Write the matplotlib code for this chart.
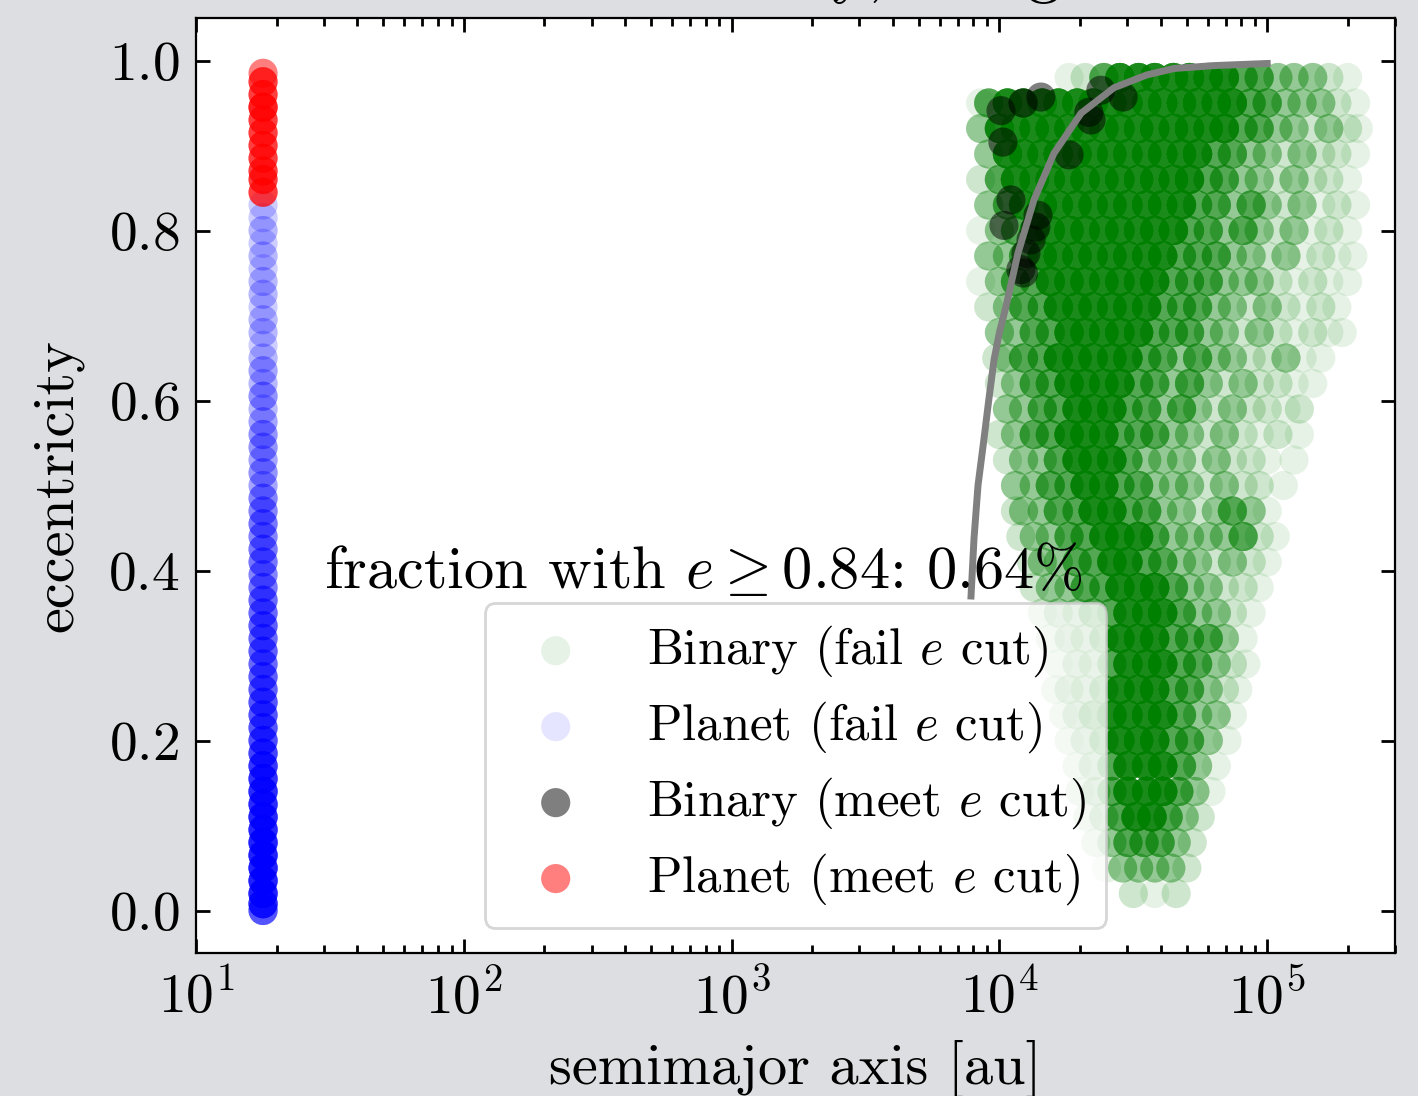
import matplotlib
matplotlib.use("Agg")
import matplotlib.pyplot as plt
import numpy as np

plt.rcParams['font.family'] = 'serif'
plt.rcParams['font.serif'] = ['cmr10']
plt.rcParams['mathtext.fontset'] = 'cm'
plt.rcParams['axes.formatter.use_mathtext'] = True
plt.rcParams['font.size'] = 20

# counts used to encode how many overlapping objects sit at a spot
S, D, M, L, T = 20, 10, 5, 2, 1

# planets: all at the same semimajor axis [au]
planet_a = 17.8
planet_fail_e = [0.83, 0.815, 0.80, 0.785, 0.77, 0.755, 0.74, 0.725, 0.71, 0.695,
                 0.68, 0.665, 0.65, 0.635, 0.62, 0.605, 0.59, 0.575, 0.56, 0.545,
                 0.53, 0.515, 0.50, 0.485, 0.47, 0.455, 0.44, 0.425, 0.41, 0.395,
                 0.38, 0.365, 0.35, 0.335, 0.32, 0.305, 0.29, 0.275, 0.26, 0.245,
                 0.23, 0.215, 0.20, 0.185, 0.17, 0.155, 0.14, 0.125, 0.11, 0.095,
                 0.08, 0.065, 0.05, 0.035, 0.02, 0.008, 0.0]
planet_fail_n = [2, 2, 3, 2, 3, 2, 3, 3, 2, 3,
                 3, 2, 3, 4, 3, 5, 3, 4, 5, 5,
                 4, 5, 4, 6, 6, 7, 6, 7, 7, 6,
                 7, 8, 8, 9, 8, 9, 8, 9, 9, 10,
                 10, 10, 11, 12, 14, 15, 16, 16, 17, 17,
                 18, 18, 18, 18, 18, 16, 10]
planet_meet_e = [0.845, 0.86, 0.87, 0.885, 0.90, 0.915, 0.93, 0.945, 0.96, 0.975, 0.985]
planet_meet_n = [2, 2, 2, 2, 2, 2, 2, 3, 2, 2, 1]

# binaries that meet the cut: log10(a / au), e
binary_meet_loga = [4.006, 4.088, 4.155, 4.013, 4.379, 4.462, 4.342, 4.334, 4.26,
                    4.043, 4.144, 4.136, 4.017, 4.118, 4.099, 4.08, 4.09]
binary_meet_e = [0.941, 0.950, 0.957, 0.904, 0.965, 0.957, 0.930, 0.939, 0.889,
                 0.836, 0.818, 0.804, 0.806, 0.789, 0.773, 0.754, 0.75]

# binaries failing the cut, read row by row: (e, [(log10 a, count), ...])
binary_fail_rows = [
    (0.98, [(4.26, T), (4.32, L), (4.39, D), (4.45, S), (4.52, S), (4.58, S), (4.65, S), (4.71, S),
            (4.78, S), (4.84, S), (4.91, D), (4.97, D), (5.04, M), (5.10, M), (5.17, M), (5.23, L), (5.30, T)]),
    (0.95, [(3.93, T), (3.96, D), (4.03, S), (4.09, S), (4.16, S), (4.22, S), (4.29, S), (4.35, S),
            (4.42, S), (4.48, S), (4.55, S), (4.61, S), (4.68, S), (4.74, S), (4.81, S), (4.87, S),
            (4.94, D), (5.00, D), (5.07, M), (5.13, M), (5.20, M), (5.26, L), (5.33, T)]),
    (0.92, [(3.93, M), (4.00, S), (4.06, S), (4.13, S), (4.19, S), (4.26, S), (4.32, S), (4.39, S),
            (4.45, S), (4.52, S), (4.58, S), (4.65, S), (4.71, S), (4.78, S), (4.84, S), (4.91, D),
            (4.97, D), (5.04, M), (5.10, M), (5.17, L), (5.23, M), (5.30, L), (5.34, T)]),
    (0.89, [(3.96, M), (4.03, S), (4.09, S), (4.16, S), (4.22, S), (4.29, S), (4.35, S), (4.42, S),
            (4.48, S), (4.55, S), (4.61, S), (4.68, S), (4.74, S), (4.81, D), (4.87, D), (4.94, M),
            (5.00, M), (5.07, L), (5.13, M), (5.20, L), (5.26, L), (5.33, T)]),
    (0.86, [(3.93, L), (4.00, D), (4.06, S), (4.13, S), (4.19, S), (4.26, S), (4.32, S), (4.39, S),
            (4.45, S), (4.52, S), (4.58, S), (4.65, S), (4.71, S), (4.78, D), (4.84, D), (4.91, M),
            (4.97, M), (5.04, L), (5.10, M), (5.17, L), (5.23, L), (5.30, T)]),
    (0.83, [(3.96, M), (4.03, D), (4.09, S), (4.16, S), (4.22, S), (4.29, S), (4.35, S), (4.42, S),
            (4.48, S), (4.55, S), (4.61, S), (4.68, S), (4.74, D), (4.81, D), (4.87, M), (4.94, D),
            (5.00, M), (5.07, L), (5.13, M), (5.20, T), (5.26, L), (5.33, T)]),
    (0.80, [(3.93, T), (4.00, M), (4.06, D), (4.13, S), (4.19, S), (4.26, S), (4.32, S), (4.39, S),
            (4.45, S), (4.52, S), (4.58, S), (4.65, S), (4.71, D), (4.78, D), (4.84, M), (4.91, D),
            (4.97, M), (5.04, L), (5.10, M), (5.17, T), (5.23, L), (5.30, T)]),
    (0.77, [(3.96, M), (4.03, M), (4.09, D), (4.16, S), (4.22, S), (4.29, S), (4.35, S), (4.42, S),
            (4.48, S), (4.55, S), (4.61, S), (4.68, D), (4.74, D), (4.81, D), (4.87, M), (4.94, M),
            (5.00, L), (5.07, M), (5.13, T), (5.20, L), (5.26, T), (5.32, T)]),
    (0.74, [(3.93, T), (4.00, M), (4.06, D), (4.13, D), (4.19, S), (4.26, S), (4.32, S), (4.39, S),
            (4.45, S), (4.52, S), (4.58, S), (4.65, D), (4.71, D), (4.78, D), (4.84, M), (4.91, M),
            (4.97, M), (5.04, L), (5.10, T), (5.17, L), (5.23, T), (5.30, T)]),
    (0.71, [(3.96, L), (4.03, M), (4.09, D), (4.16, D), (4.22, S), (4.29, S), (4.35, S), (4.42, S),
            (4.48, S), (4.55, S), (4.61, D), (4.68, D), (4.74, D), (4.81, M), (4.87, M), (4.94, L),
            (5.00, M), (5.07, L), (5.13, T), (5.20, L), (5.26, T)]),
    (0.68, [(4.00, M), (4.06, M), (4.13, D), (4.19, D), (4.26, S), (4.32, S), (4.39, S), (4.45, S),
            (4.52, S), (4.58, D), (4.65, D), (4.71, D), (4.78, M), (4.84, M), (4.91, L), (4.97, M),
            (5.04, L), (5.10, T), (5.17, L), (5.23, T), (5.28, T)]),
    (0.65, [(3.99, L), (4.03, M), (4.09, D), (4.16, D), (4.22, S), (4.29, S), (4.35, S), (4.42, S),
            (4.48, S), (4.55, D), (4.61, D), (4.68, M), (4.74, D), (4.81, M), (4.87, M), (4.94, L),
            (5.00, L), (5.07, M), (5.13, T), (5.20, T)]),
    (0.62, [(4.00, L), (4.06, M), (4.13, D), (4.19, D), (4.26, S), (4.32, S), (4.39, S), (4.45, S),
            (4.52, D), (4.58, D), (4.65, M), (4.71, D), (4.78, M), (4.84, L), (4.91, M), (4.97, L),
            (5.04, L), (5.10, T), (5.17, T)]),
    (0.59, [(4.03, M), (4.09, M), (4.16, D), (4.22, D), (4.29, S), (4.35, S), (4.42, S), (4.48, D),
            (4.55, D), (4.61, M), (4.68, D), (4.74, M), (4.81, L), (4.87, M), (4.94, L), (5.00, L),
            (5.07, T), (5.12, L)]),
    (0.56, [(4.00, L), (4.06, M), (4.13, D), (4.19, D), (4.26, S), (4.32, S), (4.39, S), (4.45, D),
            (4.52, D), (4.58, D), (4.65, M), (4.71, M), (4.78, L), (4.84, M), (4.91, L), (4.97, T),
            (5.04, L), (5.12, T)]),
    (0.53, [(4.03, L), (4.09, M), (4.16, M), (4.22, D), (4.29, S), (4.35, S), (4.42, S), (4.48, D),
            (4.55, M), (4.61, M), (4.68, M), (4.74, L), (4.81, M), (4.87, L), (4.94, L), (5.00, T),
            (5.10, T)]),
    (0.50, [(4.06, M), (4.13, M), (4.19, D), (4.26, D), (4.32, S), (4.39, S), (4.45, D), (4.52, D),
            (4.58, M), (4.65, M), (4.71, M), (4.78, L), (4.84, M), (4.91, L), (4.97, L), (5.06, T)]),
    (0.47, [(4.06, L), (4.09, M), (4.16, M), (4.22, D), (4.29, D), (4.35, S), (4.42, S), (4.48, D),
            (4.55, D), (4.61, M), (4.68, M), (4.74, L), (4.81, M), (4.87, D), (4.94, M), (5.00, T)]),
    (0.44, [(4.08, L), (4.13, M), (4.19, M), (4.26, D), (4.32, D), (4.39, S), (4.45, S), (4.52, S),
            (4.58, D), (4.65, M), (4.71, M), (4.78, M), (4.84, M), (4.91, D), (4.97, L), (5.03, T)]),
    (0.41, [(4.12, L), (4.16, M), (4.22, M), (4.29, D), (4.35, D), (4.42, S), (4.48, S), (4.55, D),
            (4.61, D), (4.68, M), (4.74, M), (4.81, L), (4.87, M), (4.94, L), (5.00, T)]),
    (0.38, [(4.13, L), (4.19, M), (4.26, M), (4.32, D), (4.39, D), (4.45, S), (4.52, S), (4.58, S),
            (4.65, D), (4.71, M), (4.78, M), (4.84, L), (4.91, L), (4.97, T)]),
    (0.35, [(4.16, L), (4.22, M), (4.29, M), (4.35, D), (4.42, D), (4.48, S), (4.55, S), (4.61, S),
            (4.68, D), (4.74, M), (4.81, M), (4.87, L), (4.94, T)]),
    (0.32, [(4.19, L), (4.26, M), (4.32, M), (4.39, D), (4.45, S), (4.52, S), (4.58, S), (4.65, D),
            (4.71, D), (4.78, D), (4.84, M), (4.91, T)]),
    (0.29, [(4.22, L), (4.29, M), (4.35, M), (4.42, D), (4.48, S), (4.55, S), (4.61, S), (4.68, D),
            (4.74, D), (4.81, M), (4.87, L), (4.92, T)]),
    (0.26, [(4.21, L), (4.26, M), (4.32, M), (4.39, D), (4.45, S), (4.52, S), (4.58, S), (4.65, D),
            (4.71, D), (4.78, M), (4.84, L), (4.89, T)]),
    (0.23, [(4.24, L), (4.29, M), (4.35, D), (4.42, S), (4.48, S), (4.55, S), (4.61, S), (4.68, D),
            (4.74, M), (4.81, M), (4.87, T)]),
    (0.20, [(4.26, L), (4.32, M), (4.39, D), (4.45, S), (4.52, S), (4.58, S), (4.65, D), (4.71, D),
            (4.78, M), (4.85, T)]),
    (0.17, [(4.29, L), (4.35, M), (4.42, D), (4.48, S), (4.55, S), (4.61, S), (4.68, D), (4.74, M),
            (4.81, T)]),
    (0.14, [(4.30, L), (4.36, M), (4.42, D), (4.48, S), (4.55, S), (4.61, S), (4.67, D), (4.73, M),
            (4.79, T)]),
    (0.11, [(4.33, L), (4.39, M), (4.45, D), (4.51, S), (4.57, S), (4.63, D), (4.69, M), (4.75, L)]),
    (0.08, [(4.36, L), (4.42, M), (4.48, D), (4.54, D), (4.60, D), (4.66, M), (4.72, L)]),
    (0.05, [(4.40, T), (4.46, M), (4.52, M), (4.58, M), (4.64, M), (4.70, L)]),
    (0.02, [(4.50, L), (4.58, T), (4.66, L)]),
]

# grey boundary curve
curve_loga = [3.894, 3.905, 3.92, 3.942, 3.96, 3.98, 4.0, 4.024, 4.069, 4.129,
              4.204, 4.305, 4.428, 4.55, 4.652, 4.8, 5.0]
curve_e = [0.37, 0.437, 0.50, 0.554, 0.60, 0.648, 0.68, 0.71, 0.773, 0.836,
           0.891, 0.938, 0.968, 0.983, 0.9906, 0.994, 0.9965]

# expand the rows into individual objects
fail_loga, fail_e = [], []
for e, row in binary_fail_rows:
    for loga, n in row:
        fail_loga += [loga] * n
        fail_e += [e] * n

pf_e = np.repeat(planet_fail_e, planet_fail_n)
pm_e = np.repeat(planet_meet_e, planet_meet_n)

fig = plt.figure(figsize=(7.09, 5.48), dpi=200, facecolor='#dddee1')
ax = fig.add_axes([196 / 1418, 1 - 953 / 1096, 1199 / 1418, 935 / 1096])

ms = 110
ax.scatter(10 ** np.array(fail_loga), fail_e, s=ms, c='green', alpha=0.1,
           edgecolors='none', label=r'Binary (fail $e$ cut)')
ax.scatter(np.full(len(pf_e), planet_a), pf_e, s=ms, c='blue', alpha=0.1,
           edgecolors='none', label=r'Planet (fail $e$ cut)')
ax.scatter(10 ** np.array(binary_meet_loga), binary_meet_e, s=ms, c='black', alpha=0.5,
           edgecolors='none', label=r'Binary (meet $e$ cut)')
ax.scatter(np.full(len(pm_e), planet_a), pm_e, s=ms, c='red', alpha=0.5,
           edgecolors='none', label=r'Planet (meet $e$ cut)')
ax.plot(10 ** np.array(curve_loga), curve_e, color='grey', lw=2.5)

ax.text(30, 0.38, r'fraction with $e \geq 0.84$: 0.64%', fontsize=21.8)

ax.set_xscale('log')
ax.set_xlim(10, 3e5)
ax.set_ylim(-0.05, 1.05)
ax.set_yticks([0.0, 0.2, 0.4, 0.6, 0.8, 1.0])
ax.set_xlabel('semimajor axis [au]', fontsize=21, labelpad=5)
ax.set_ylabel('eccentricity', fontsize=21, labelpad=9)
ax.set_title('Planet vs. binary, using $e$ cut', pad=10)
ax.tick_params(which='both', direction='in', top=True, right=True, width=1.0, pad=6)
ax.tick_params(which='major', length=5)
ax.tick_params(which='minor', length=3)

ax.legend(loc='lower center', scatterpoints=1, fontsize=18.3, labelspacing=0.4)

fig.savefig('out.png', dpi=200, facecolor=fig.get_facecolor())
